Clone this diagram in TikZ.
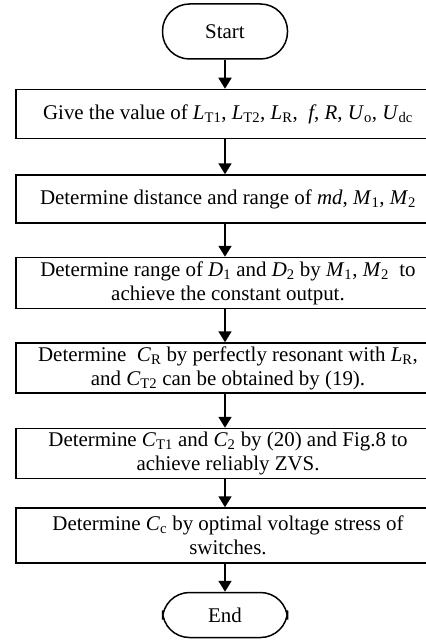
\documentclass[tikz,border=0pt]{standalone}
\usepackage{fontspec}
\setmainfont{Liberation Serif}
\usepackage{tikz}
\usetikzlibrary{positioning, arrows.meta}
\newcommand{\vsym}[2]{\textit{#1}\textsubscript{#2}}

\begin{document}
\begin{tikzpicture}[
  x=1bp, y=1bp,
  box/.style={rectangle, draw, line width=1.5bp, minimum width=424bp,
              minimum height=49bp, align=center, inner sep=1bp,
              font=\fontsize{21}{24}\selectfont},
  term/.style={rectangle, rounded corners=27bp, draw, line width=1.5bp,
               minimum width=125bp, minimum height=55bp,
               font=\fontsize{21}{24}\selectfont},
  arr/.style={-{Triangle[length=11bp, width=13bp]}, line width=1.8bp},
]
\useasboundingbox (0,0) rectangle (425,-641);

%% Terminals and steps
\node[term] (start) at (225,-31.5) {Start};
\node[box, below=29bp of start, xshift=3bp] (give)
  {Give the value of \vsym{L}{T1}, \vsym{L}{T2}, \vsym{L}{R}, \ \textit{f}, \textit{R}, \vsym{U}{o}, \vsym{U}{dc}};
\node[box, below=35bp of give, minimum height=48bp] (dist)
  {Determine distance and range of \textit{md}, \vsym{M}{1}, \vsym{M}{2}};
\node[box, below=33bp of dist, minimum height=51bp] (duty)
  {Determine range of \vsym{D}{1} and \vsym{D}{2} by \vsym{M}{1}, \vsym{M}{2} \ to\\achieve the constant output.};
\node[box, below=33bp of duty, minimum height=50bp] (cr)
  {Determine \ \vsym{C}{R} by perfectly resonant with \vsym{L}{R},\\and \vsym{C}{T2} can be obtained by (19).};
\node[box, below=34bp of cr, minimum height=50bp] (ct)
  {Determine \vsym{C}{T1} and \vsym{C}{2} by (20) and Fig.8 to\\achieve reliably ZVS.};
\node[box, below=28bp of ct, minimum height=55bp] (cc)
  {Determine \vsym{C}{c} by optimal voltage stress of\\switches.};
\node[term, below=28bp of cc, xshift=-3bp, minimum height=45bp] (end) {End};

%% Arrows
\draw[arr] (start) -- (start |- give.north);
\draw[arr] (start |- give.south) -- (start |- dist.north);
\draw[arr] (start |- dist.south) -- (start |- duty.north);
\draw[arr] (start |- duty.south) -- (start |- cr.north);
\draw[arr] (start |- cr.south) -- (start |- ct.north);
\draw[arr] (start |- ct.south) -- (start |- cc.north);
\draw[arr] (start |- cc.south) -- (end);

\end{tikzpicture}
\end{document}
